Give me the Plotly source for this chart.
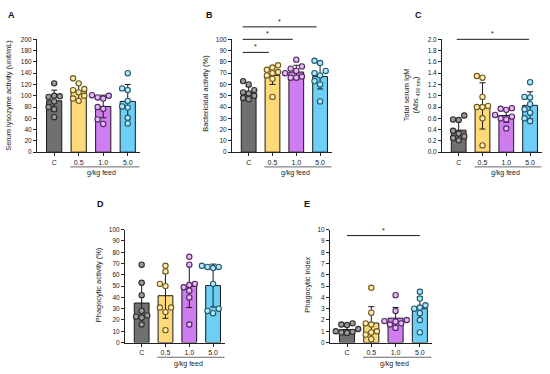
import plotly.graph_objects as go

W, H = 550, 374
OFF = 0

groups = ["C", "0.5", "1.0", "5.0"]

# Panel A: serum lysozyme activity (unit/mL)
A_means = [91, 108, 81, 90]
A_sds = [19, 15, 20, 30]
A_pts = [[122, 100, 99, 98, 90, 80, 76, 62],
         [131, 122, 112, 110, 106, 100, 95, 91],
         [101, 100, 97, 95, 80, 77, 58, 50],
         [140, 113, 110, 91, 81, 79, 61, 51]]

# Panel B: bactericidal activity (%)
B_means = [53, 68, 71, 67]
B_sds = [5, 8, 6, 11]
B_pts = [[63, 60, 55, 53, 52, 50, 48, 47],
         [77, 75, 73, 71, 70, 68, 65, 49],
         [82, 76, 74, 72, 70, 67, 66, 66],
         [81, 79, 72, 70, 68, 63, 60, 45]]

# Panel C: total serum IgM (Abs 450 nm)
C_means = [0.39, 0.82, 0.65, 0.83]
C_sds = [0.17, 0.41, 0.12, 0.24]
C_pts = [[0.65, 0.58, 0.57, 0.38, 0.33, 0.28, 0.25, 0.21],
         [1.35, 1.32, 0.98, 0.82, 0.80, 0.80, 0.60, 0.12],
         [0.78, 0.77, 0.75, 0.66, 0.63, 0.60, 0.58, 0.42],
         [1.24, 0.98, 0.97, 0.85, 0.76, 0.70, 0.60, 0.55]]

# Panel D: phagocytic activity (%)
D_means = [35, 41.5, 50, 50.5]
D_sds = [18, 20, 19, 19]
D_pts = [[69, 53, 42, 28, 24, 23, 22, 16],
         [68, 63, 52, 50, 31, 31, 27, 11],
         [76, 69, 52, 51, 49, 46, 40, 16],
         [68, 67, 67, 66, 52, 30, 28, 26]]

# Panel E: phagocytic index
E_means = [1.15, 1.73, 2.16, 3.0]
E_sds = [0.35, 1.45, 0.95, 1.05]
E_pts = [[1.7, 1.6, 1.55, 1.2, 1.0, 0.95, 0.9, 0.85],
         [4.85, 2.65, 1.7, 1.6, 1.0, 0.9, 0.7, 0.3],
         [4.2, 2.8, 2.0, 1.9, 1.85, 1.7, 1.6, 1.3],
         [4.5, 3.9, 3.3, 3.1, 3.0, 2.6, 2.0, 0.9]]

bar_colors = ["#707070", "#FFD878", "#CE7CF0", "#6DCFF6"]
pt_fill = ["#9a9a9a", "#FFE9AE", "#E6B8F7", "#B4E6FA"]
pt_line = ["#2e2e2e", "#6b5a1c", "#4e2a5e", "#1f5a6e"]

FONT = "Arial, Liberation Sans, sans-serif"
TXT = "#222222"
XR = [-0.7, 3.5]

panels = [
    dict(key="A", means=A_means, sds=A_sds, pts=A_pts, ymax=200, dtick=20, fmt="d",
         xd=(37, 140), yd=(36, 151)),
    dict(key="B", means=B_means, sds=B_sds, pts=B_pts, ymax=100, dtick=10, fmt="d",
         xd=(232, 332), yd=(36, 151)),
    dict(key="C", means=C_means, sds=C_sds, pts=C_pts, ymax=2.0, dtick=0.2, fmt=".1f",
         xd=(442, 542), yd=(36, 151)),
    dict(key="D", means=D_means, sds=D_sds, pts=D_pts, ymax=100, dtick=10, fmt="d",
         xd=(125, 225), yd=(230, 345)),
    dict(key="E", means=E_means, sds=E_sds, pts=E_pts, ymax=10, dtick=1, fmt="d",
         xd=(330, 432), yd=(230, 345)),
]


def px2x(p):
    return (p - OFF) / W


def px2y(p):
    return 1 - (p - OFF) / H


def xdata2paper(pn, xv):
    x0, x1 = pn["xd"]
    return px2x(x0 + (xv - XR[0]) / (XR[1] - XR[0]) * (x1 - x0))


def swarm(vals, ppu_y, ppu_x, diam=5.6):
    placed = []
    offs = [0.0] * len(vals)
    order = sorted(range(len(vals)), key=lambda i: vals[i])
    for i in order:
        yp = vals[i] * ppu_y
        cands = [0.0]
        for s in range(1, 8):
            cands += [-s * diam, s * diam]
        chosen = 0.0
        for c in cands:
            ok = True
            for (xo, yo) in placed:
                if (xo - c) ** 2 + (yo - yp) ** 2 < (diam * 0.98) ** 2:
                    ok = False
                    break
            if ok:
                chosen = c
                break
        placed.append((chosen, yp))
        offs[i] = chosen / ppu_x
    return offs


fig = go.Figure()
layout = {}
for n, pn in enumerate(panels, start=1):
    sfx = "" if n == 1 else str(n)
    xa, ya = "x" + sfx, "y" + sfx
    x0, x1 = pn["xd"]
    y0, y1 = pn["yd"]
    ppu_x = (x1 - x0) / (XR[1] - XR[0])
    ppu_y = (y1 - y0) / pn["ymax"]
    fig.add_trace(go.Bar(
        x=list(range(4)), y=pn["means"], width=0.62,
        marker=dict(color=bar_colors, line=dict(color="#1a1a1a", width=1)),
        error_y=dict(type="data", array=pn["sds"], color="#1a1a1a", thickness=1, width=3),
        xaxis=xa, yaxis=ya, showlegend=False, hoverinfo="skip"))
    for g in range(4):
        vals = pn["pts"][g]
        offs = swarm(vals, ppu_y, ppu_x)
        fig.add_trace(go.Scatter(
            x=[g + o for o in offs], y=vals, mode="markers", cliponaxis=False,
            marker=dict(size=5.3, color=pt_fill[g], line=dict(color=pt_line[g], width=1.1)),
            xaxis=xa, yaxis=ya, showlegend=False, hoverinfo="skip"))
    layout["xaxis" + sfx] = dict(
        domain=[px2x(x0), px2x(x1)], range=XR, anchor=ya,
        tickvals=[0, 1, 2, 3], ticktext=groups, showline=True, linecolor="#222", linewidth=1,
        ticks="outside", ticklen=3, tickwidth=1, tickcolor="#222",
        tickfont=dict(size=7, color=TXT, family=FONT), showgrid=False, zeroline=False,
        fixedrange=True)
    layout["yaxis" + sfx] = dict(
        domain=[px2y(y1), px2y(y0)], range=[0, pn["ymax"]], anchor=xa,
        dtick=pn["dtick"], tick0=0, tickformat=pn["fmt"], showline=True, linecolor="#222",
        linewidth=1, ticks="outside", ticklen=3, tickwidth=1, tickcolor="#222",
        tickfont=dict(size=6.5, color=TXT, family=FONT), showgrid=False, zeroline=False,
        fixedrange=True)

annotations = []
shapes = []

# panel letters
for lab, (px, py) in zip("ABCDE", [(11, 11), (209, 11), (418, 11), (100, 204), (307, 204)]):
    annotations.append(dict(text="<b>%s</b>" % lab, x=px2x(px), y=px2y(py), xref="paper",
                            yref="paper", showarrow=False, xanchor="center", yanchor="middle",
                            font=dict(size=9, color="#111", family=FONT)))

# y-axis titles
ytitles = [
    ("Serum lysozyme activity (unit/mL)", 8.5, 94),
    ("Bactericidal activity (%)", 205.5, 92),
    ("Total serum IgM<br>(Abs <sub>450 nm</sub>)", 411, 93),
    ("Phagocytic activity (%)", 98.5, 287),
    ("Phagocytic index", 308, 286),
]
for t, px, py in ytitles:
    annotations.append(dict(text=t, x=px2x(px), y=px2y(py), xref="paper", yref="paper",
                            showarrow=False, textangle=-90, xanchor="center", yanchor="middle",
                            font=dict(size=7.4, color=TXT, family=FONT)))

# group bracket "g/kg feed"
for pn in panels:
    ybot = pn["yd"][1]
    ly = ybot + 15
    shapes.append(dict(type="line", xref="paper", yref="paper",
                       x0=xdata2paper(pn, 0.66), x1=xdata2paper(pn, 3.48),
                       y0=px2y(ly), y1=px2y(ly), line=dict(color="#444", width=0.8)))
    annotations.append(dict(text="g/kg feed", x=xdata2paper(pn, 1.95), y=px2y(ly + 6.5),
                            xref="paper", yref="paper", showarrow=False,
                            xanchor="center", yanchor="middle",
                            font=dict(size=7, color=TXT, family=FONT)))

# significance bars
sig = [
    (panels[1], -0.25, 0.85, 49.3),
    (panels[1], -0.25, 1.85, 36.0),
    (panels[1], -0.25, 2.85, 23.3),
    (panels[2], -0.08, 2.96, 36.0),
    (panels[4], 0.0, 3.0, 236.0),
]
for pn, xa0, xa1, ly in sig:
    X0, X1 = xdata2paper(pn, xa0), xdata2paper(pn, xa1)
    shapes.append(dict(type="line", xref="paper", yref="paper", x0=X0, x1=X1,
                       y0=px2y(ly), y1=px2y(ly), line=dict(color="#1a1a1a", width=1)))
    annotations.append(dict(text="*", x=(X0 + X1) / 2, y=px2y(ly - 1), xref="paper",
                            yref="paper", showarrow=False, xanchor="center", yanchor="bottom",
                            borderpad=0, font=dict(size=7, color="#111", family=FONT)))

fig.update_layout(
    width=W, height=H, autosize=False, margin=dict(l=0, r=0, t=0, b=0),
    paper_bgcolor="white", plot_bgcolor="white", barmode="overlay",
    font=dict(family=FONT, color=TXT),
    annotations=annotations, shapes=shapes, **layout)

fig.write_html("out.html", config={"displayModeBar": False},
               post_script="document.body.style.margin='0';")
